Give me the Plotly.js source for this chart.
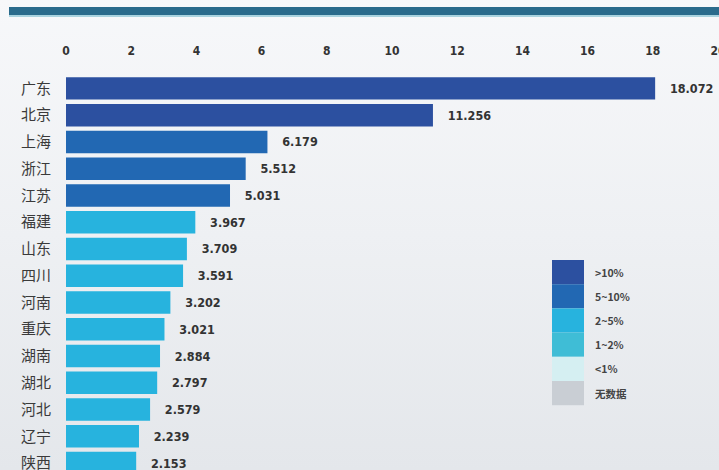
<!DOCTYPE html>
<html>
<head>
<meta charset="utf-8">
<script src="https://cdn.plot.ly/plotly-3.0.1.min.js"></script>
<style>
html,body{margin:0;padding:0;}
body{width:719px;height:470px;background:linear-gradient(180deg,#f7f8fa 0%,#eef0f3 50%,#e4e7eb 100%);overflow:hidden;}
#chart{width:719px;height:470px;}
</style>
</head>
<body>
<div id="chart"></div>
<script>
const provinces = ["广东","北京","上海","浙江","江苏","福建","山东","四川","河南","重庆","湖南","湖北","河北","辽宁","陕西"];
const values = [18.072,11.256,6.179,5.512,5.031,3.967,3.709,3.591,3.202,3.021,2.884,2.797,2.579,2.239,2.153];
const valueLabels = ["18.072","11.256","6.179","5.512","5.031","3.967","3.709","3.591","3.202","3.021","2.884","2.797","2.579","2.239","2.153"];
const levels = [">10%",">10%","5~10%","5~10%","5~10%","2~5%","2~5%","2~5%","2~5%","2~5%","2~5%","2~5%","2~5%","2~5%","2~5%"];
const legendLabels = [">10%","5~10%","2~5%","1~2%","<1%","无数据"];
const legendColors = ["#2c50a0","#2268b3","#27b3de","#3fbdd6","#d5eff2","#c9ced4"];
const xTicks = [0,2,4,6,8,10,12,14,16,18,20];

const colorOf = {};
legendLabels.forEach((l,i)=>colorOf[l]=legendColors[i]);

const W=719,H=470,mt=75,mb=0,ml=66,mr=1;
const ph=H-mt-mb, pw=W-ml-mr;
const py = p => (H-mb-p)/ph;
const px = p => (p-ml)/pw;

const shapes = [{
  type:'rect', xref:'paper', yref:'paper', layer:'above',
  x0:px(9), x1:px(720), y0:py(15), y1:py(7),
  fillcolor:'#2a6b8c', line:{width:0}
},{
  type:'rect', xref:'paper', yref:'paper', layer:'above',
  x0:px(9), x1:px(720), y0:py(17), y1:py(15),
  fillcolor:'#a9d3df', line:{width:0}
}];
const annotations = [];
const lgTop = 260, lgStep = 24.2;
legendLabels.forEach((l,i)=>{
  const y0 = lgTop + i*lgStep, y1 = y0 + lgStep;
  shapes.push({type:'rect', xref:'paper', yref:'paper', layer:'above',
    x0:px(552), x1:px(584), y0:py(y1), y1:py(y0),
    fillcolor:legendColors[i], line:{width:0}});
  annotations.push({xref:'paper', yref:'paper', x:px(593), y:py((y0+y1)/2),
    xanchor:'left', yanchor:'middle', showarrow:false, text:l,
    font:{family:'"Noto Sans CJK SC","DejaVu Sans Condensed",sans-serif', size:10.5, color:'#444', weight:'bold'}});
});

const trace = {
  type:'bar', orientation:'h',
  x: values, y: provinces,
  marker:{color: levels.map(l=>colorOf[l]), line:{width:0}},
  text: valueLabels.map(t=>'\u00a0\u00a0\u00a0'+t), textposition:'outside', cliponaxis:false,
  textfont:{family:'"DejaVu Sans Condensed","Liberation Sans",sans-serif', size:12.5, color:'#333', weight:'bold'},
  hoverinfo:'none'
};

const layout = {
  width:W, height:H,
  margin:{l:ml, r:mr, t:mt, b:mb, pad:0},
  paper_bgcolor:'rgba(0,0,0,0)', plot_bgcolor:'rgba(0,0,0,0)',
  bargap:0.16,
  showlegend:false,
  xaxis:{side:'top', range:[0,20], tickvals:xTicks, ticktext:xTicks.map(String),
    showgrid:false, zeroline:false, showline:false, ticks:'', ticklabelstandoff:17,
    ticklabeloverflow:'allow',
    tickfont:{family:'"DejaVu Sans Condensed","Liberation Sans",sans-serif', size:12, color:'#333', weight:'bold'}},
  yaxis:{type:'category', range:[14.26,-0.5], showgrid:false, zeroline:false, showline:false, ticks:'',
    ticklabelstandoff:14,
    tickfont:{family:'"Noto Sans CJK SC",sans-serif', size:15, color:'#3a3a3a'}},
  shapes, annotations
};

Plotly.newPlot('chart',[trace],layout,{displayModeBar:false, staticPlot:true});
</script>
</body>
</html>
